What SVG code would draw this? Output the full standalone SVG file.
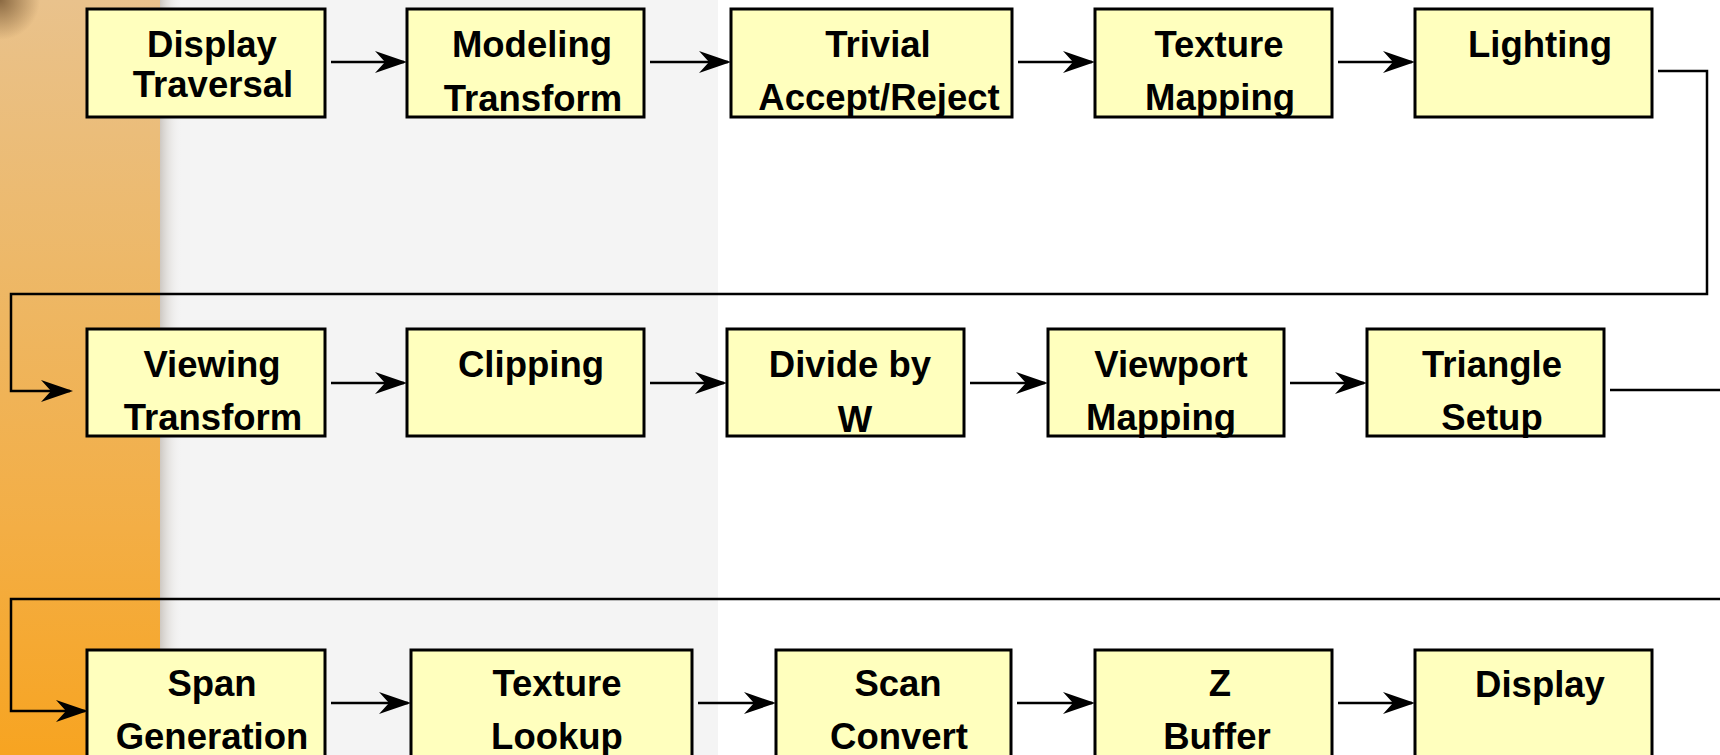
<svg xmlns="http://www.w3.org/2000/svg" width="1720" height="755" viewBox="0 0 1720 755">
<style>
.box{fill:#FFFFBE;stroke:#000;stroke-width:3}
.t{font-family:"Liberation Sans",Arial,sans-serif;font-weight:bold;font-size:36.5px;fill:#000;text-anchor:middle}
.c{fill:none;stroke:#000;stroke-width:2.5}
</style>
<defs>
<marker id="ah" markerUnits="userSpaceOnUse" viewBox="-30 -12 34 24" refX="0" refY="0" markerWidth="34" markerHeight="24" orient="auto" overflow="visible">
<path d="M3,0 L-29,-11 L-19,0 L-29,11 Z" fill="#000"/>
</marker>
<linearGradient id="og" x1="0" y1="0" x2="0" y2="1">
<stop offset="0" stop-color="#E9C28C"/>
<stop offset="0.35" stop-color="#EDB868"/>
<stop offset="0.7" stop-color="#F3AE45"/>
<stop offset="1" stop-color="#F7A421"/>
</linearGradient>
<linearGradient id="sh" x1="0" y1="0" x2="1" y2="0">
<stop offset="0" stop-color="#C9C3BC" stop-opacity="0.9"/>
<stop offset="1" stop-color="#F3F3F3" stop-opacity="0"/>
</linearGradient>
<radialGradient id="corner" cx="0" cy="0" r="1">
<stop offset="0" stop-color="#7A5A35" stop-opacity="0.85"/>
<stop offset="1" stop-color="#7A5A35" stop-opacity="0"/>
</radialGradient>
</defs>
<g id="background">
<rect x="0" y="0" width="1720" height="755" fill="#FFFFFF"/>
<rect x="160" y="0" width="558" height="755" fill="#F4F4F4"/>
<rect x="0" y="0" width="160" height="755" fill="url(#og)"/>
<rect x="0" y="0" width="40" height="40" fill="url(#corner)"/>
<rect x="160" y="0" width="22" height="755" fill="url(#sh)"/>
</g>
<g id="connectors">
<path class="c" d="M331,62 H404" marker-end="url(#ah)"/>
<path class="c" d="M650,62 H728" marker-end="url(#ah)"/>
<path class="c" d="M1018,62 H1092" marker-end="url(#ah)"/>
<path class="c" d="M1338,62 H1412" marker-end="url(#ah)"/>
<path class="c" d="M1658,71 H1707 V294 H11 V391 H70" marker-end="url(#ah)"/>
<path class="c" d="M331,383 H404" marker-end="url(#ah)"/>
<path class="c" d="M650,383 H724" marker-end="url(#ah)"/>
<path class="c" d="M970,383 H1045" marker-end="url(#ah)"/>
<path class="c" d="M1290,383 H1364" marker-end="url(#ah)"/>
<path class="c" d="M1610,390 H1722"/>
<path class="c" d="M1722,599 H11 V711 H85" marker-end="url(#ah)"/>
<path class="c" d="M331,703 H408" marker-end="url(#ah)"/>
<path class="c" d="M698,703 H773" marker-end="url(#ah)"/>
<path class="c" d="M1017,703 H1092" marker-end="url(#ah)"/>
<path class="c" d="M1338,703 H1412" marker-end="url(#ah)"/>
</g>
<g id="n-display-traversal"><rect class="box" x="87" y="9" width="238" height="108"/><text class="t" x="212" y="57">Display</text><text class="t" x="213" y="97">Traversal</text></g>
<g id="n-modeling-transform"><rect class="box" x="407" y="9" width="237" height="108"/><text class="t" x="532" y="57">Modeling</text><text class="t" x="533" y="111">Transform</text></g>
<g id="n-trivial"><rect class="box" x="731" y="9" width="281" height="108"/><text class="t" x="878" y="57">Trivial</text><text class="t" x="879" y="110">Accept/Reject</text></g>
<g id="n-texture-mapping"><rect class="box" x="1095" y="9" width="237" height="108"/><text class="t" x="1219" y="57">Texture</text><text class="t" x="1220" y="110">Mapping</text></g>
<g id="n-lighting"><rect class="box" x="1415" y="9" width="237" height="108"/><text class="t" x="1540" y="57">Lighting</text></g>
<g id="n-viewing-transform"><rect class="box" x="87" y="329" width="238" height="107"/><text class="t" x="212" y="377">Viewing</text><text class="t" x="213" y="430">Transform</text></g>
<g id="n-clipping"><rect class="box" x="407" y="329" width="237" height="107"/><text class="t" x="531" y="377">Clipping</text></g>
<g id="n-divide"><rect class="box" x="727" y="329" width="237" height="107"/><text class="t" x="850" y="377">Divide by</text><text class="t" x="855" y="432">W</text></g>
<g id="n-viewport"><rect class="box" x="1048" y="329" width="236" height="107"/><text class="t" x="1171" y="377">Viewport</text><text class="t" x="1161" y="430">Mapping</text></g>
<g id="n-triangle"><rect class="box" x="1367" y="329" width="237" height="107"/><text class="t" x="1492" y="377">Triangle</text><text class="t" x="1492" y="430">Setup</text></g>
<g id="n-span"><rect class="box" x="87" y="650" width="238" height="110"/><text class="t" x="212" y="696">Span</text><text class="t" x="212" y="749">Generation</text></g>
<g id="n-texture-lookup"><rect class="box" x="411" y="650" width="281" height="110"/><text class="t" x="557" y="696">Texture</text><text class="t" x="557" y="749">Lookup</text></g>
<g id="n-scan"><rect class="box" x="776" y="650" width="235" height="110"/><text class="t" x="898" y="696">Scan</text><text class="t" x="899" y="749">Convert</text></g>
<g id="n-zbuffer"><rect class="box" x="1095" y="650" width="237" height="110"/><text class="t" x="1220" y="696">Z</text><text class="t" x="1217" y="749">Buffer</text></g>
<g id="n-display"><rect class="box" x="1415" y="650" width="237" height="110"/><text class="t" x="1540" y="697">Display</text></g>
</svg>
